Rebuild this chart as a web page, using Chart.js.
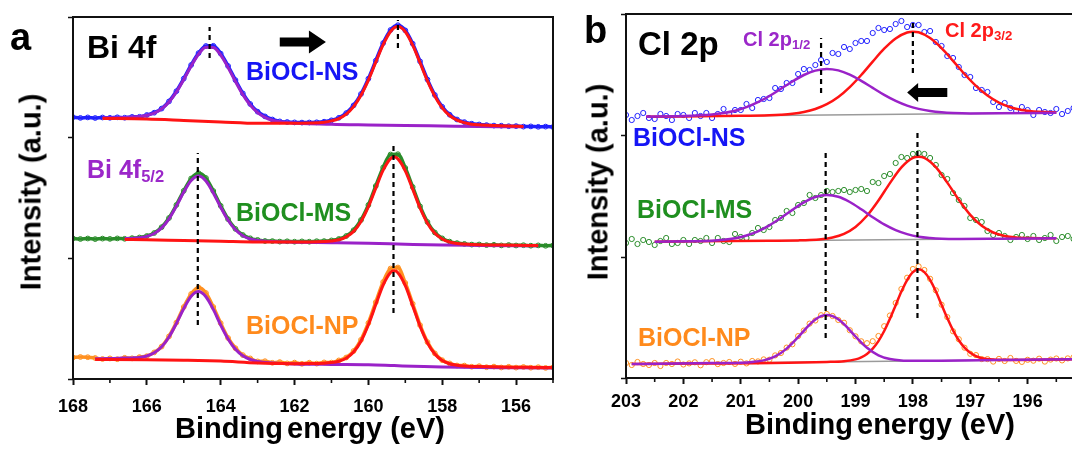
<!DOCTYPE html>
<html>
<head>
<meta charset="utf-8">
<script src="https://cdn.jsdelivr.net/npm/chart.js@4.4.1/dist/chart.umd.min.js"></script>
<style>
html, body { margin: 0; padding: 0; background: #fff; width: 1072px; height: 453px; overflow: hidden; }
#wrap { position: relative; width: 1072px; height: 453px; overflow: hidden;
        font-family: Arial, "Liberation Sans", sans-serif; font-weight: bold; color: #000; }
canvas { position: absolute; top: 0; }
.lbl { position: absolute; white-space: nowrap; line-height: 1; }
.lbl sub { font-size: 0.66em; vertical-align: baseline; position: relative; top: 0.22em; }
.ytitle { position: absolute; white-space: nowrap; line-height: 1; font-size: 29px;
          transform: translate(-50%, -50%) rotate(-90deg); }
.xtitle { position: absolute; white-space: nowrap; line-height: 1; font-size: 29px;
          transform: translateX(-50%); }
.xtitle span { word-spacing: -4px; }
</style>
</head>
<body>
<div id="wrap">
  <canvas id="bi4f" width="560" height="453" style="left:0px"></canvas>
  <canvas id="cl2p" width="530" height="453" style="left:570px"></canvas>

  <div class="lbl" style="left:10px;top:18px;font-size:38px">a</div>
  <div class="lbl" style="left:87px;top:31px;font-size:32px">Bi 4f</div>
  <div class="lbl" style="left:246px;top:59px;font-size:25px;color:#1515f5">BiOCl-NS</div>
  <div class="lbl" style="left:87px;top:157px;font-size:25px;color:#9b27c9">Bi 4f<sub>5/2</sub></div>
  <div class="lbl" style="left:236px;top:200px;font-size:25px;color:#1f8f1f">BiOCl-MS</div>
  <div class="lbl" style="left:246px;top:313px;font-size:25px;color:#ff8a1c">BiOCl-NP</div>
  <div class="ytitle" style="left:31px;top:192px">Intensity (a.u.)</div>
  <div class="xtitle" style="left:310px;top:414px"><span>Binding energy</span> (eV)</div>

  <div class="lbl" style="left:584px;top:11px;font-size:38px">b</div>
  <div class="lbl" style="left:638px;top:27px;font-size:33px">Cl 2p</div>
  <div class="lbl" style="left:743px;top:29px;font-size:20px;color:#9b27c9">Cl 2p<sub>1/2</sub></div>
  <div class="lbl" style="left:945px;top:20px;font-size:20px;color:#ff1a1a">Cl 2p<sub>3/2</sub></div>
  <div class="lbl" style="left:633px;top:125px;font-size:25px;color:#1515f5">BiOCl-NS</div>
  <div class="lbl" style="left:637px;top:197px;font-size:25px;color:#1f8f1f">BiOCl-MS</div>
  <div class="lbl" style="left:638px;top:325px;font-size:25px;color:#ff8a1c">BiOCl-NP</div>
  <div class="ytitle" style="left:598px;top:182px">Intensity (a.u.)</div>
  <div class="xtitle" style="left:880px;top:410px"><span>Binding energy</span> (eV)</div>
</div>

<script>
// ---------- Bi 4f region ----------
const biEnergy = [168.0,167.8,167.6,167.4,167.2,167.0,166.8,166.6,166.4,166.2,
  166.0,165.8,165.6,165.4,165.2,165.0,164.8,164.6,164.4,164.2,
  164.0,163.8,163.6,163.4,163.2,163.0,162.8,162.6,162.4,162.2,
  162.0,161.8,161.6,161.4,161.2,161.0,160.8,160.6,160.4,160.2,
  160.0,159.8,159.6,159.4,159.2,159.0,158.8,158.6,158.4,158.2,
  158.0,157.8,157.6,157.4,157.2,157.0,156.8,156.6,156.4,156.2,
  156.0,155.8,155.6,155.4,155.2,155.0];

const biNS = [261.8,261.1,261.6,261.0,261.5,261.2,261.7,261.3,262.1,262.2,
  264.0,266.3,270.4,277.6,287.8,300.4,314.0,325.9,333.0,333.2,
  325.4,313.0,298.9,285.6,275.0,267.3,262.6,259.5,257.6,257.0,
  256.6,256.4,256.5,256.7,257.3,258.7,261.2,265.9,273.6,285.0,
  300.3,318.3,335.9,349.0,353.8,348.6,335.3,317.6,299.4,284.0,
  272.2,264.3,259.5,256.9,255.3,254.5,253.9,253.4,253.3,252.8,
  252.9,252.4,252.6,252.2,252.4,252.0];

const biMS = [140.6,140.0,140.5,139.9,140.4,140.1,140.6,140.2,140.9,141.5,
  143.0,146.0,151.8,161.0,174.0,188.2,200.5,205.8,201.0,188.0,
  173.2,159.8,150.1,144.0,140.7,139.1,138.0,137.9,137.4,137.7,
  137.3,137.6,137.3,137.8,137.9,138.6,140.0,143.0,148.8,159.0,
  174.0,193.0,211.5,224.5,224.8,211.0,192.0,172.6,157.0,146.5,
  140.6,137.4,135.9,135.1,134.4,134.5,133.9,134.2,133.6,134.0,
  133.5,133.8,133.3,133.6,133.2,133.5];

const biNP = [21.5,22.0,21.8,21.0,20.0,20.6,19.8,21.2,20.6,21.9,
  22.8,26.6,32.4,42.6,56.4,72.0,85.0,91.5,86.0,72.0,
  55.8,41.0,30.8,23.9,20.6,17.6,17.8,16.2,16.9,15.6,
  16.4,15.2,16.3,15.4,16.6,16.4,18.6,21.5,28.0,39.2,
  56.0,76.8,97.0,110.5,111.5,96.0,75.2,53.8,36.9,25.6,
  18.8,15.6,13.5,13.4,12.3,12.8,11.8,12.4,11.5,12.2,
  11.4,12.0,11.3,11.8,11.1,11.6];

// fitted components (background included)
const nsBi52E = [167.2,166.6,166.2,166.0,165.8,165.6,165.4,165.2,165.0,164.8,164.6,164.4,164.2,164.0,163.8,163.6,163.4,163.2,163.0,162.8,162.6,162.2,161.0,160.0,159.0,158.0,157.0,156.0,155.8];
const nsBi52  = [261.3,261.5,262.4,263.7,265.9,270.1,277.0,287.0,299.5,313.0,324.8,331.7,331.4,323.9,311.6,297.5,284.4,273.9,266.4,261.6,258.8,256.5,254.8,254.1,253.5,253.0,252.5,252.2,252.1];
const nsBi72E = [167.2,166.0,165.0,164.0,163.0,162.4,162.0,161.6,161.2,161.0,160.8,160.6,160.4,160.2,160.0,159.8,159.6,159.4,159.2,159.0,158.8,158.6,158.4,158.2,158.0,157.8,157.6,157.4,157.2,157.0,156.6,156.2,155.8];
const nsBi72  = [260.6,260.0,258.6,257.1,255.7,255.7,255.8,256.0,256.8,258.1,260.4,264.9,272.4,283.8,298.9,316.8,334.3,347.5,352.4,347.3,333.9,316.2,298.1,282.8,271.2,263.5,258.8,256.3,254.8,254.2,253.5,253.0,252.6];

const msBi52E = [166.6,166.4,166.2,166.0,165.8,165.6,165.4,165.2,165.0,164.8,164.6,164.4,164.2,164.0,163.8,163.6,163.4,163.2,163.0,162.6,162.0,161.0,160.0,159.0,158.0,157.0,156.0,155.4];
const msBi52  = [140.4,140.6,141.2,142.6,145.5,151.1,160.2,172.9,186.9,198.5,203.0,198.1,186.1,171.7,158.7,149.2,143.3,140.0,138.5,137.4,136.8,136.3,135.7,134.8,134.0,133.6,133.3,133.2];
const msBi72E = [166.6,166.0,165.0,164.0,163.0,162.2,161.6,161.2,161.0,160.8,160.6,160.4,160.2,160.0,159.8,159.6,159.4,159.3,159.2,159.0,158.8,158.6,158.4,158.2,158.0,157.8,157.6,157.4,157.0,156.4,156.0,155.4];
const msBi72  = [139.5,139.3,138.4,137.7,137.0,137.0,137.1,137.5,138.0,139.2,142.1,147.6,157.5,172.3,190.9,208.8,220.4,222.0,220.1,208.2,189.9,171.0,155.8,145.7,140.0,137.0,135.6,135.0,134.3,133.9,133.7,133.5];

const npBi52E = [167.4,167.0,166.6,166.4,166.2,166.0,165.8,165.6,165.4,165.2,165.0,164.8,164.6,164.4,164.2,164.0,163.8,163.6,163.4,163.2,163.0,162.6,162.0,161.0,160.0,159.3,158.5,158.0,157.0,156.0,155.0];
const npBi52  = [20.2,20.4,20.9,21.1,21.6,23.0,26.2,32.2,42.0,55.5,70.5,82.8,87.5,82.3,69.6,53.9,40.0,29.7,23.2,19.5,17.5,16.1,15.1,14.6,14.3,13.4,12.4,11.9,11.4,11.2,11.0];
const npBi72E = [167.4,167.0,166.0,165.0,164.6,164.0,163.0,162.4,162.0,161.6,161.2,161.0,160.8,160.6,160.4,160.2,160.0,159.8,159.6,159.4,159.3,159.2,159.0,158.8,158.6,158.4,158.2,158.0,157.8,157.6,157.4,157.0,156.4,156.0,155.4,155.0];
const npBi72  = [19.6,19.5,19.2,18.8,18.6,17.9,16.0,15.5,15.3,15.4,15.8,16.4,17.8,20.8,27.0,37.8,54.2,74.4,94.0,106.6,108.2,106.3,93.3,73.3,52.7,36.1,25.0,18.4,15.2,13.8,13.0,12.4,11.9,11.8,11.5,11.4];

// peak-position guides: energy, lower and upper intensity
const biGuideE  = [164.3, 159.2, 164.62, 159.32];
const biGuideLo = [321, 331, 54, 66];
const biGuideHi = [352, 359, 226, 237];

const biTicks = [168, 166, 164, 162, 160, 158, 156];
const biMinor = [167, 165, 163, 161, 159, 157, 155];
const biYTicks = [0, 121, 242, 362];
const biArrow = { from: 162.4, to: 161.15, y: 337 };

// ---------- Cl 2p region ----------
const clEnergy = [203.0,202.9,202.8,202.7,202.6,202.5,202.4,202.3,202.2,202.1,
  202.0,201.9,201.8,201.7,201.6,201.5,201.4,201.3,201.2,201.1,
  201.0,200.9,200.8,200.7,200.6,200.5,200.4,200.3,200.2,200.1,
  200.0,199.9,199.8,199.7,199.6,199.5,199.4,199.3,199.2,199.1,
  199.0,198.9,198.8,198.7,198.6,198.5,198.4,198.3,198.2,198.1,
  198.0,197.9,197.8,197.7,197.6,197.5,197.4,197.3,197.2,197.1,
  197.0,196.9,196.8,196.7,196.6,196.5,196.4,196.3,196.2,196.1,
  196.0,195.9,195.8,195.7,195.6,195.5,195.4,195.3,195.2];

const clNS = [263,258,262,265,260,259,264,262,258,264,
  263,260,265,262,265,260,264,269,264,268,
  268,274,270,278,279,280,290,289,295,295,
  304,309,308,313,318,316,325,324,331,329,
  335,337,337,345,350,348,349,354,357,351,
  353,353,346,347,336,332,322,320,311,303,
  301,290,288,286,276,271,275,270,267,271,
  268,263,268,266,265,269,264,267,270];

const clMS = [135,139,134,138,136,133,137,140,134,135,
  138,134,138,137,140,135,140,137,136,144,
  141,140,145,150,148,151,158,160,167,165,
  173,175,183,180,183,187,186,187,188,186,
  188,189,187,196,195,202,204,215,221,220,
  224,225,224,220,213,203,199,185,178,172,
  160,158,156,147,143,145,142,138,141,143,
  139,142,138,140,143,137,141,142,139];

const clNP = [15,13,16,14,13,15,12,15,14,16.5,
  13.5,14.6,15.7,12.7,15.8,16.9,13.9,15,16,14.1,
  16.3,14.6,17,16.6,18.6,18.3,22.6,25,30.4,33.7,
  41.9,47.5,54.4,57.5,62.8,64,62,58,55.3,47.8,
  41.7,36.7,34.8,36.8,42,51.8,62.5,75,89,100.3,
  109,111.6,108,99.2,87.7,73.3,60.9,46.7,38.8,30.3,
  24.2,22.9,18.9,18.9,16.4,19.1,17,20,17.1,16.1,
  18.2,17.3,19.3,16.4,18.4,19.5,17.6,19.6,20.7];

const nsCl12E = [202.65,202.0,201.5,201.3,201.1,200.9,200.7,200.5,200.3,200.1,199.9,199.7,199.5,199.3,199.1,198.9,198.7,198.5,198.3,198.1,197.9,197.7,197.5,197.3,197.0,196.5,195.5];
const nsCl12  = [261.3,261.9,263.5,265.0,267.3,270.9,275.8,282.0,289.2,296.5,303.0,307.4,309.1,307.6,303.4,297.2,290.1,283.1,277.1,272.4,269.1,267.0,265.7,265.0,264.6,264.7,265.3];
const nsCl32E = [202.65,201.0,200.5,200.3,200.1,199.9,199.7,199.5,199.3,199.1,198.9,198.7,198.5,198.3,198.1,198.0,197.9,197.7,197.5,197.3,197.1,196.9,196.7,196.5,196.3,196.1,195.9,195.7,195.5];
const nsCl32  = [261.3,262.2,262.8,263.3,264.2,266.0,269.0,273.8,281.0,290.9,303.0,316.4,329.3,339.6,345.5,346.3,345.7,340.0,329.9,317.2,304.0,292.1,282.4,275.4,270.8,268.0,266.6,265.9,265.6];
const nsClBgE = [202.65, 195.5];
const nsClBg  = [261.3, 265.3];

const msCl12E = [202.5,201.8,201.5,201.3,201.1,200.9,200.7,200.5,200.3,200.1,199.9,199.7,199.5,199.3,199.1,198.9,198.7,198.5,198.3,198.1,197.9,197.7,197.5,197.2,196.5,195.5];
const msCl12  = [136.3,136.8,137.3,138.2,139.8,142.5,146.7,152.6,160.0,168.1,175.6,181.0,183.0,181.2,176.0,168.7,160.8,153.6,147.9,143.9,141.3,140.0,139.3,139.1,139.3,139.7];
const msCl32E = [202.5,200.5,200.0,199.8,199.6,199.4,199.2,199.0,198.8,198.6,198.4,198.2,198.0,197.9,197.8,197.6,197.4,197.2,197.0,196.8,196.6,196.4,196.2,196.0,195.5];
const msCl32  = [136.3,137.3,137.6,137.9,138.7,140.5,144.2,151.1,162.2,177.5,194.9,210.6,220.1,221.3,220.2,210.9,195.4,178.2,163.1,152.2,145.5,142.0,140.4,139.9,139.7];
const msClBgE = [202.5, 195.5];
const msClBg  = [136.3, 139.7];

const npCl12E = [202.9,201.5,201.0,200.8,200.6,200.4,200.2,200.0,199.8,199.7,199.6,199.5,199.4,199.3,199.2,199.0,198.8,198.6,198.4,198.2,198.0,197.5,196.5,195.2];
const npCl12  = [14.0,14.9,15.3,16.0,17.6,21.6,29.4,40.9,53.4,58.5,61.8,63.1,61.9,58.7,53.8,41.5,30.2,22.7,19.0,17.5,17.2,17.3,17.9,18.7];
const npCl32E = [202.9,199.5,199.2,199.0,198.9,198.8,198.7,198.6,198.5,198.4,198.3,198.2,198.1,198.0,197.9,197.8,197.7,197.6,197.5,197.4,197.3,197.2,197.1,197.0,196.9,196.8,196.6,196.3,195.2];
const npCl32  = [14.0,16.1,16.8,18.6,20.7,24.1,29.4,36.9,47.0,59.2,72.8,86.4,97.9,105.8,108.7,105.9,98.2,86.7,73.3,59.9,47.7,37.8,30.3,25.2,21.9,19.9,18.4,18.0,18.7];
const npClBgE = [202.9, 195.2];
const npClBg  = [14.0, 18.7];

const clGuideE  = [199.6, 198.0, 199.52, 197.92];
const clGuideLo = [285, 305, 40, 60];
const clGuideHi = [340, 358, 225, 245];

const clTicks = [203, 202, 201, 200, 199, 198, 197, 196];
const clMinor = [202.5, 201.5, 200.5, 199.5, 198.5, 197.5, 196.5, 195.5];
const clYTicks = [0, 121, 243, 364];
const clArrow = { from: 197.4, to: 198.1, y: 285.5 };

// ---------- drawing ----------
const FONT = 'Arial, "Liberation Sans", sans-serif';
const BLUE = '#2020ff', GREEN = '#2a8c2a', ORANGE = '#ff9020';
const PURPLE = '#9a22c8', RED = '#ff1414', GREY = '#9a9a9a';

function pts(xs, ys) {
  return xs.map((x, i) => ({ x: x, y: ys[i] }));
}

function fit(xs, ys, color, width, order) {
  return {
    data: pts(xs, ys), borderColor: color, borderWidth: width,
    pointRadius: 0, fill: false, cubicInterpolationMode: 'monotone', order: order
  };
}

function scan(xs, ys, color, radius, lineWidth) {
  return {
    data: pts(xs, ys), borderColor: color, borderWidth: lineWidth,
    showLine: lineWidth > 0, pointRadius: radius, pointBorderWidth: 1,
    pointBorderColor: color, pointBackgroundColor: 'rgba(255,255,255,0)',
    cubicInterpolationMode: 'monotone', fill: false, order: 5
  };
}

function guides(es, lo, hi) {
  return es.map((e, i) => ({
    data: [{ x: e, y: lo[i] }, { x: e, y: hi[i] }],
    borderColor: '#000', borderWidth: 2.2, borderDash: [5, 4],
    pointRadius: 0, order: 0
  }));
}

// frame box, shorter minor ticks and the shift arrow
const framePlugin = {
  id: 'frame',
  afterDatasetsDraw(chart, args, opts) {
    const { ctx, chartArea: a, scales } = chart;
    ctx.save();
    ctx.strokeStyle = '#111';
    ctx.lineWidth = 2;
    ctx.strokeRect(a.left, a.top, a.right - a.left, a.bottom - a.top);

    ctx.lineWidth = 1.6;
    opts.minor.forEach(v => {
      const x = scales.x.getPixelForValue(v);
      ctx.beginPath();
      ctx.moveTo(x, a.bottom);
      ctx.lineTo(x, a.bottom + 4);
      ctx.stroke();
    });

    const ar = opts.arrow;
    const x0 = scales.x.getPixelForValue(ar.from);
    const x1 = scales.x.getPixelForValue(ar.to);
    const y = scales.y.getPixelForValue(ar.y);
    const dir = x1 > x0 ? 1 : -1;
    const head = opts.head, shaft = opts.shaft, hh = opts.headHalf;
    const xb = x1 - dir * head;
    ctx.fillStyle = '#000';
    ctx.beginPath();
    ctx.moveTo(x0, y - shaft);
    ctx.lineTo(xb, y - shaft);
    ctx.lineTo(xb, y - hh);
    ctx.lineTo(x1, y);
    ctx.lineTo(xb, y + hh);
    ctx.lineTo(xb, y + shaft);
    ctx.lineTo(x0, y + shaft);
    ctx.closePath();
    ctx.fill();
    ctx.restore();
  }
};

function panel(id, cfg) {
  return new Chart(document.getElementById(id), {
    type: 'line',
    data: { datasets: cfg.datasets },
    plugins: [framePlugin],
    options: {
      responsive: false,
      animation: false,
      events: [],
      layout: { padding: cfg.padding },
      plugins: {
        legend: { display: false },
        tooltip: { enabled: false },
        frame: cfg.frame
      },
      scales: {
        x: {
          type: 'linear', reverse: true, min: cfg.xMin, max: cfg.xMax,
          afterBuildTicks: s => { s.ticks = cfg.xTicks.map(v => ({ value: v })); },
          afterFit: s => { s.height = cfg.xHeight; },
          border: { display: false },
          grid: { drawOnChartArea: false, drawTicks: true, tickLength: 6, tickWidth: 2, tickColor: '#111' },
          ticks: {
            color: '#000', padding: cfg.labelPad, maxRotation: 0, autoSkip: false,
            font: { family: FONT, size: 18, weight: 'bold' }
          }
        },
        y: {
          type: 'linear', min: 0, max: cfg.yMax,
          afterBuildTicks: s => { s.ticks = cfg.yTicks.map(v => ({ value: v })); },
          afterFit: s => { s.width = cfg.yWidth; },
          border: { display: false },
          grid: { drawOnChartArea: false, drawTicks: true, tickLength: 5, tickWidth: 1.5, tickColor: '#111' },
          ticks: { display: false }
        }
      }
    }
  });
}

panel('bi4f', {
  padding: { left: 0, top: 17, right: 7, bottom: 0 },
  xMin: 155, xMax: 168, xTicks: biTicks, xHeight: 74, labelPad: 11,
  yMax: 362, yTicks: biYTicks, yWidth: 73,
  frame: { minor: biMinor, arrow: biArrow, head: 17, shaft: 4.5, headHalf: 11.5 },
  datasets: [
    ...guides(biGuideE, biGuideLo, biGuideHi),
    fit(nsBi72E, nsBi72, RED, 3, 1),
    fit(nsBi52E, nsBi52, PURPLE, 3, 2),
    fit(msBi72E, msBi72, RED, 3, 1),
    fit(msBi52E, msBi52, PURPLE, 3, 2),
    fit(npBi72E, npBi72, RED, 3, 1),
    fit(npBi52E, npBi52, PURPLE, 3, 2),
    scan(biEnergy, biNS, BLUE, 2.4, 3.5),
    scan(biEnergy, biMS, GREEN, 2.4, 3.5),
    scan(biEnergy, biNP, ORANGE, 2.4, 3.5)
  ]
});

panel('cl2p', {
  padding: { left: 0, top: 14, right: 15, bottom: 0 },
  xMin: 195, xMax: 203, xTicks: clTicks, xHeight: 75, labelPad: 7,
  yMax: 364, yTicks: clYTicks, yWidth: 56,
  frame: { minor: clMinor, arrow: clArrow, head: 11, shaft: 4.5, headHalf: 9.5 },
  datasets: [
    ...guides(clGuideE, clGuideLo, clGuideHi),
    fit(nsCl12E, nsCl12, PURPLE, 2.5, 1),
    fit(nsCl32E, nsCl32, RED, 2.5, 2),
    fit(nsClBgE, nsClBg, GREY, 1.5, 3),
    fit(msCl12E, msCl12, PURPLE, 2.5, 1),
    fit(msCl32E, msCl32, RED, 2.5, 2),
    fit(msClBgE, msClBg, GREY, 1.5, 3),
    fit(npCl12E, npCl12, PURPLE, 2.5, 1),
    fit(npCl32E, npCl32, RED, 2.5, 2),
    fit(npClBgE, npClBg, GREY, 1.5, 3),
    scan(clEnergy, clNS, BLUE, 2.6, 0),
    scan(clEnergy, clMS, GREEN, 2.6, 0),
    scan(clEnergy, clNP, ORANGE, 2.6, 0)
  ]
});
</script>
</body>
</html>
